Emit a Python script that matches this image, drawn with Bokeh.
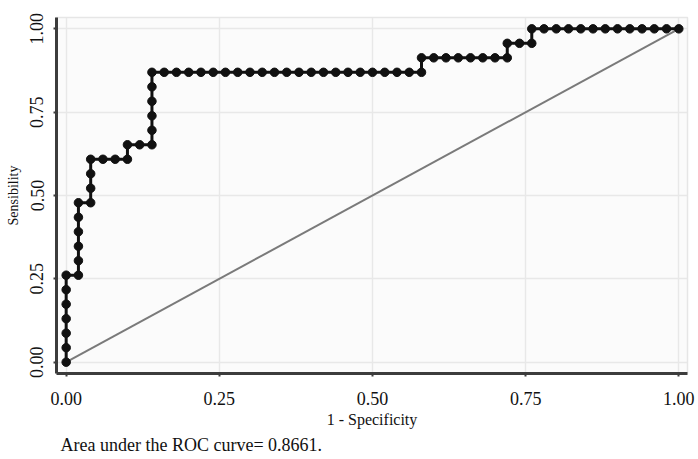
from bokeh.plotting import figure
from bokeh.models import Range1d, FixedTicker, PrintfTickFormatter, Title
from bokeh.embed import file_html
from bokeh.resources import INLINE

# ROC curve as counts of false positives / true positives (50 negatives, 23 positives)
n_neg = 50
n_pos = 23
fp_count = [0, 0, 0, 0, 0, 0, 0,
            1, 1, 1, 1, 1, 1,
            2, 2, 2, 2,
            3, 4, 5,
            5,
            6, 7,
            7, 7, 7, 7, 7,
            8, 9, 10, 11, 12, 13, 14, 15, 16, 17, 18, 19, 20, 21, 22, 23, 24, 25, 26, 27, 28, 29,
            29,
            30, 31, 32, 33, 34, 35, 36,
            36,
            37, 38,
            38,
            39, 40, 41, 42, 43, 44, 45, 46, 47, 48, 49, 50]
tp_count = [0, 1, 2, 3, 4, 5, 6,
            6, 7, 8, 9, 10, 11,
            11, 12, 13, 14,
            14, 14, 14,
            15,
            15, 15,
            16, 17, 18, 19, 20,
            20, 20, 20, 20, 20, 20, 20, 20, 20, 20, 20, 20, 20, 20, 20, 20, 20, 20, 20, 20, 20, 20,
            21,
            21, 21, 21, 21, 21, 21, 21,
            22,
            22, 22,
            23,
            23, 23, 23, 23, 23, 23, 23, 23, 23, 23, 23, 23]
ref_x = [0.0, 1.0]
ref_y = [0.0, 1.0]
ticks = [0.0, 0.25, 0.5, 0.75, 1.0]
auc_text = "Area under the ROC curve= 0.8661."

fpr = [c / n_neg for c in fp_count]
tpr = [c / n_pos for c in tp_count]

FONT = "Liberation Serif"

p = figure(width=698, height=459, output_backend="svg", toolbar_location=None,
           x_range=Range1d(-0.0158, 1.0142), y_range=Range1d(-0.034, 1.034),
           min_border_left=56, min_border_right=11, min_border_top=17, min_border_bottom=86,
           background_fill_color="#fbfbfb", border_fill_color="white",
           outline_line_color="#e6e6e6", outline_line_width=1.5)

p.grid.ticker = FixedTicker(ticks=ticks)
p.grid.grid_line_color = "#e8e8e8"
p.grid.grid_line_width = 1.5

for ax in (p.xaxis[0], p.yaxis[0]):
    ax.ticker = FixedTicker(ticks=ticks)
    ax.formatter = PrintfTickFormatter(format="%.2f")
    ax.axis_line_color = "#3c3c3c"
    ax.axis_line_width = 3
    ax.major_tick_line_color = "#3c3c3c"
    ax.major_tick_line_width = 2
    ax.major_tick_in = 0
    ax.major_tick_out = 3
    ax.minor_tick_line_color = None
    ax.major_label_text_font = FONT
    ax.major_label_text_font_size = "18px"
    ax.major_label_text_color = "#111111"
    ax.axis_label_text_font = FONT
    ax.axis_label_text_font_style = "normal"
    ax.axis_label_text_color = "#111111"

p.xaxis.axis_label = "1 - Specificity"
p.xaxis.axis_label_text_font_size = "16px"
p.xaxis.major_label_standoff = 15
p.xaxis.axis_label_standoff = 3

p.yaxis.axis_label = "Sensibility"
p.yaxis.axis_label_text_font_size = "14px"
p.yaxis.major_label_orientation = "vertical"
p.yaxis.major_label_standoff = 10
p.yaxis.axis_label_standoff = 7

p.line(ref_x, ref_y, line_color="#7a7a7a", line_width=2)
p.line(fpr, tpr, line_color="#111111", line_width=3)
p.scatter(fpr, tpr, size=8.5, fill_color="#111111", line_color="#111111")

cap = Title(text=auc_text, align="left", offset=4, text_font=FONT,
            text_font_size="18px", text_font_style="normal", text_color="#111111",
            standoff=4)
p.add_layout(cap, "below")

open("out.html", "w").write(file_html(p, INLINE))
